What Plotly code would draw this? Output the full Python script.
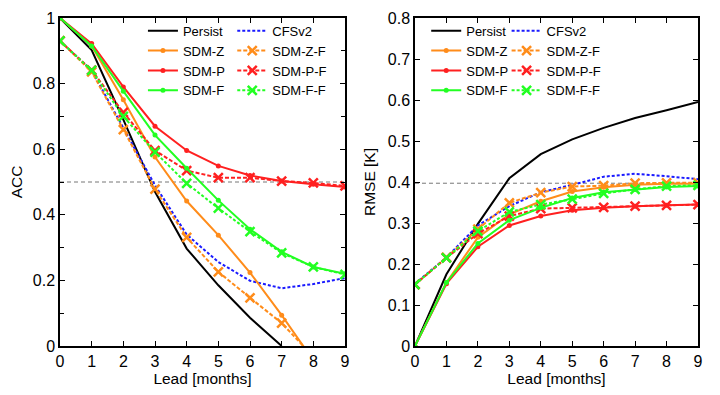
import plotly.graph_objects as go
from plotly.subplots import make_subplots

lead = [0, 1, 2, 3, 4, 5, 6, 7, 8, 9]

# ACC (left panel)
acc_persist = [1.0, 0.902, 0.69, 0.47, 0.297, 0.185, 0.086, 0.0, None, None]
acc_cfsv2 = [0.93, 0.84, 0.665, 0.49, 0.34, 0.256, 0.199, 0.176, 0.189, 0.207]
acc_sdm_z = [1.0, 0.915, 0.751, 0.576, 0.442, 0.338, 0.224, 0.094, -0.044, None]
acc_sdm_z_f = [0.93, 0.836, 0.66, 0.478, 0.331, 0.226, 0.147, 0.07, -0.033, None]
acc_sdm_p = [1.0, 0.922, 0.79, 0.67, 0.596, 0.549, 0.52, 0.503, 0.493, 0.485]
acc_sdm_p_f = [0.93, 0.841, 0.712, 0.596, 0.535, 0.513, 0.513, 0.503, 0.497, 0.488]
acc_sdm_f = [1.0, 0.915, 0.777, 0.643, 0.542, 0.444, 0.356, 0.287, 0.241, 0.22]
acc_sdm_f_f = [0.93, 0.84, 0.70, 0.591, 0.496, 0.42, 0.349, 0.284, 0.241, 0.218]

# RMSE (right panel)
rmse_persist = [0.0, 0.175, 0.298, 0.409, 0.468, 0.504, 0.532, 0.556, 0.575, 0.595]
rmse_cfsv2 = [0.152, 0.216, 0.294, 0.341, 0.375, 0.393, 0.413, 0.42, 0.414, 0.407]
rmse_sdm_z = [0.0, 0.155, 0.265, 0.321, 0.353, 0.377, 0.387, 0.393, 0.396, 0.396]
rmse_sdm_z_f = [0.15, 0.216, 0.285, 0.349, 0.374, 0.389, 0.391, 0.397, 0.398, 0.398]
rmse_sdm_p = [0.0, 0.152, 0.242, 0.294, 0.317, 0.331, 0.337, 0.341, 0.343, 0.345]
rmse_sdm_p_f = [0.15, 0.215, 0.274, 0.317, 0.335, 0.337, 0.338, 0.341, 0.343, 0.345]
rmse_sdm_f = [0.0, 0.155, 0.25, 0.307, 0.337, 0.361, 0.375, 0.382, 0.388, 0.39]
rmse_sdm_f_f = [0.15, 0.215, 0.28, 0.327, 0.345, 0.358, 0.372, 0.382, 0.39, 0.392]

acc_ref = 0.5
rmse_ref = 0.397

names = ["Persist", "CFSv2", "SDM-Z", "SDM-Z-F", "SDM-P", "SDM-P-F", "SDM-F", "SDM-F-F"]

BLACK = "#000000"
BLUE = "#1a1aff"
ORANGE = "#ff8c1a"
RED = "#ff2020"
GREEN = "#22ff22"

styles = {
    "Persist": dict(color=BLACK, dash="solid", marker=None),
    "CFSv2": dict(color=BLUE, dash="3px,2px", marker=None),
    "SDM-Z": dict(color=ORANGE, dash="solid", marker="circle"),
    "SDM-Z-F": dict(color=ORANGE, dash="4px,2px", marker="x"),
    "SDM-P": dict(color=RED, dash="solid", marker="circle"),
    "SDM-P-F": dict(color=RED, dash="4px,2px", marker="x"),
    "SDM-F": dict(color=GREEN, dash="solid", marker="circle"),
    "SDM-F-F": dict(color=GREEN, dash="3px,2px", marker="x"),
}

acc_data = [acc_persist, acc_cfsv2, acc_sdm_z, acc_sdm_z_f, acc_sdm_p, acc_sdm_p_f, acc_sdm_f, acc_sdm_f_f]
rmse_data = [rmse_persist, rmse_cfsv2, rmse_sdm_z, rmse_sdm_z_f, rmse_sdm_p, rmse_sdm_p_f, rmse_sdm_f, rmse_sdm_f_f]

FONT = "Liberation Sans, Arial, Helvetica, sans-serif"

fig = make_subplots(rows=1, cols=2, horizontal_spacing=0.11)

def add_traces(data, col, leg_a, leg_b):
    for i, (name, vals) in enumerate(zip(names, data)):
        st = styles[name]
        if st["marker"] == "circle":
            mode = "lines+markers"
            marker = dict(symbol="circle", size=5, color=st["color"])
        elif st["marker"] == "x":
            mode = "lines+markers"
            marker = dict(symbol="x-thin", size=9, color=st["color"],
                          line=dict(width=2.5, color=st["color"]))
        else:
            mode = "lines"
            marker = None
        kw = dict(x=lead, y=vals, name=name, mode=mode,
                  line=dict(color=st["color"], width=2, dash=st["dash"]),
                  legend=leg_a if i % 2 == 0 else leg_b, connectgaps=False)
        if marker:
            kw["marker"] = marker
        fig.add_trace(go.Scatter(**kw), row=1, col=col)

add_traces(acc_data, 1, "legend", "legend2")
add_traces(rmse_data, 2, "legend3", "legend4")

axis_common = dict(showline=True, linecolor="black", linewidth=1.5, mirror="ticks",
                   ticks="inside", ticklen=5, tickwidth=1, tickcolor="black",
                   showgrid=False, zeroline=False, automargin=False,
                   ticklabeloverflow="allow",
                   tickfont=dict(family=FONT, size=16, color="black"))

title_font = dict(family=FONT, size=15.5, color="black")

fig.update_xaxes(**axis_common, range=[0, 9], dtick=1, tick0=0,
                 title=dict(text="Lead [months]", font=title_font, standoff=4))
fig.update_xaxes(domain=[0, 0.4467], row=1, col=1)
fig.update_xaxes(domain=[0.5564, 1], row=1, col=2)
fig.update_yaxes(**axis_common)
fig.update_yaxes(range=[0, 1], dtick=0.2, tick0=0,
                 minor=dict(dtick=0.1, ticks="inside", ticklen=4, tickcolor="black"),
                 title=dict(text="ACC", font=title_font, standoff=8),
                 row=1, col=1)
fig.update_yaxes(range=[0, 0.8], dtick=0.1, tick0=0,
                 title=dict(text="RMSE [K]", font=title_font, standoff=8),
                 row=1, col=2)

fig.add_shape(type="line", xref="x domain", yref="y", x0=0, x1=1, y0=acc_ref, y1=acc_ref,
              line=dict(color="#777777", width=1, dash="4px,3px"), layer="below")
fig.add_shape(type="line", xref="x2 domain", yref="y2", x0=0, x1=1, y0=rmse_ref, y1=rmse_ref,
              line=dict(color="#777777", width=1, dash="4px,3px"), layer="below")

leg_font = dict(family=FONT, size=13, color="black")
leg_common = dict(bgcolor="rgba(0,0,0,0)", borderwidth=0, font=leg_font,
                  tracegroupgap=0, itemwidth=30, yanchor="top", xanchor="left",
                  orientation="v")
fig.update_layout(
    legend=dict(**leg_common, x=0.130, y=1.004),
    legend2=dict(**leg_common, x=0.270, y=1.004),
    legend3=dict(**leg_common, x=0.574, y=1.004),
    legend4=dict(**leg_common, x=0.700, y=1.004),
)

# page body has an 8px default margin, so the figure is sized/offset to compensate
fig.update_layout(
    width=712, height=387,
    margin=dict(l=52, r=22, t=9, b=49),
    paper_bgcolor="white", plot_bgcolor="white",
    font=dict(family=FONT, color="black"),
)

fig.write_html("out.html")
